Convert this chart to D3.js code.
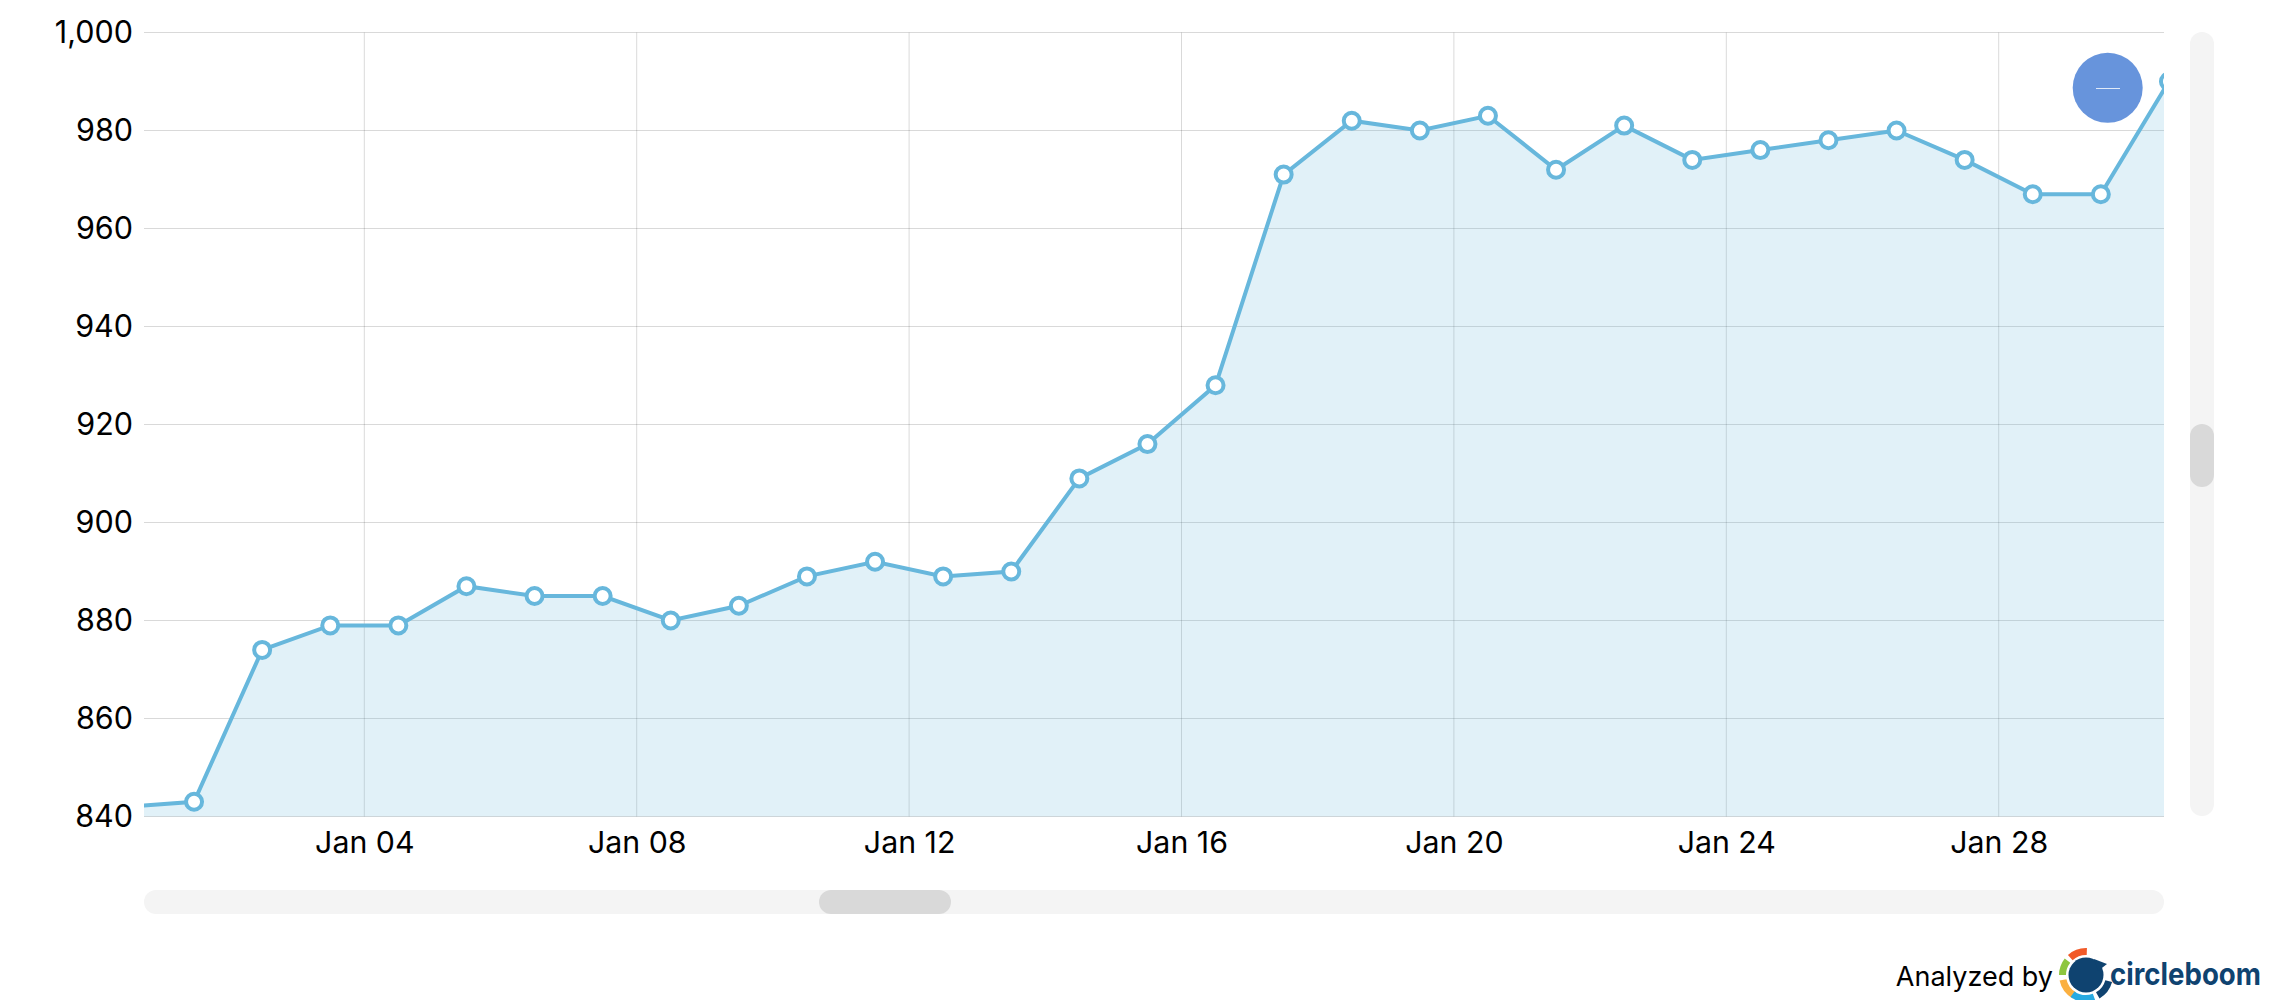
<!DOCTYPE html>
<html>
<head>
<meta charset="utf-8">
<script src="https://cdn.jsdelivr.net/npm/d3@7/dist/d3.min.js"></script>
<style>
html,body{margin:0;padding:0;background:#fff}
svg{display:block}
text{font-family:Inter,"Noto Sans",sans-serif;fill:#000}
</style>
</head>
<body>
<svg id="c" width="2280" height="1000"></svg>
<script>
const dayLabels = ["2023-12-31","2024-01-01","2024-01-02","2024-01-03","2024-01-04","2024-01-05","2024-01-06","2024-01-07","2024-01-08","2024-01-09","2024-01-10","2024-01-11","2024-01-12","2024-01-13","2024-01-14","2024-01-15","2024-01-16","2024-01-17","2024-01-18","2024-01-19","2024-01-20","2024-01-21","2024-01-22","2024-01-23","2024-01-24","2024-01-25","2024-01-26","2024-01-27","2024-01-28","2024-01-29","2024-01-30"];
const followers = [842,843,874,879,879,887,885,885,880,883,889,892,889,890,909,916,928,971,982,980,983,972,981,974,976,978,980,974,967,967,990];
const yTicks = [840,860,880,900,920,940,960,980,1000];
const xTickDays = ["2024-01-04","2024-01-08","2024-01-12","2024-01-16","2024-01-20","2024-01-24","2024-01-28"];

const L=144,R=2164,T=32.5,B=816.5;
const parse=d3.utcParse("%Y-%m-%d");
const pts=dayLabels.map((d,i)=>({t:d3.utcHour.offset(parse(d),12),v:followers[i]}));
const msDay=864e5;
const x=d3.scaleUtc().domain([+parse("2024-01-04")-(364.3-L)/68.1*msDay,+parse("2024-01-04")+(R-364.3)/68.1*msDay]).range([L,R]);
const y=d3.scaleLinear().domain([840,1000]).range([B,T]);
const svg=d3.select("#c");
svg.append("defs").append("clipPath").attr("id","pc").append("rect").attr("x",L).attr("y",0).attr("width",R-L).attr("height",B+1);

const gridOp=0.15;
const yAxis=d3.axisLeft(y).tickValues(yTicks).tickSize(0).tickPadding(0).tickFormat(d3.format(","));
const gy=svg.append("g").attr("transform",`translate(${L-11},0)`).call(yAxis);
gy.select(".domain").remove();
gy.selectAll("text").attr("font-size",30.5).attr("dy","0.33em");
const xAxis=d3.axisBottom(x).tickValues(xTickDays.map(parse)).tickSize(0).tickPadding(0).tickFormat(d3.utcFormat("%b %d"));
const gx=svg.append("g").attr("transform",`translate(0,${B+26})`).call(xAxis);
gx.select(".domain").remove();
gx.selectAll("text").attr("font-size",30.3).attr("dy","0.36em");

const grid=svg.append("g");
grid.selectAll("line.h").data(yTicks).join("line").attr("class","h")
 .attr("x1",L).attr("x2",R).attr("y1",d=>y(d)).attr("y2",d=>y(d))
 .attr("stroke","#000").attr("stroke-opacity",gridOp).attr("stroke-width",1);
grid.selectAll("line.v").data(xTickDays.map(parse)).join("line").attr("class","v")
 .attr("x1",d=>x(d)).attr("x2",d=>x(d)).attr("y1",T).attr("y2",B)
 .attr("stroke","#000").attr("stroke-opacity",gridOp).attr("stroke-width",1);

const plot=svg.append("g").attr("clip-path","url(#pc)");
plot.append("path").datum(pts)
 .attr("d",d3.area().x(d=>x(d.t)).y0(B).y1(d=>y(d.v)))
 .attr("fill","#67b7dc").attr("fill-opacity",0.2);
plot.append("path").datum(pts)
 .attr("d",d3.line().x(d=>x(d.t)).y(d=>y(d.v)))
 .attr("fill","none").attr("stroke","#67b7dc").attr("stroke-width",4);
plot.selectAll("circle").data(pts).join("circle")
 .attr("cx",d=>x(d.t)).attr("cy",d=>y(d.v)).attr("r",8)
 .attr("fill","#fff").attr("stroke","#67b7dc").attr("stroke-width",4);

svg.append("rect").attr("x",L).attr("y",890).attr("width",R-L).attr("height",24).attr("rx",12).attr("fill","#f4f4f4");
svg.append("rect").attr("x",819).attr("y",890).attr("width",132).attr("height",24).attr("rx",12).attr("fill","#d9d9d9");
svg.append("rect").attr("x",2190).attr("y",32).attr("width",24).attr("height",784).attr("rx",12).attr("fill","#f4f4f4");
svg.append("rect").attr("x",2190).attr("y",424).attr("width",24).attr("height",63).attr("rx",12).attr("fill","#d9d9d9");

svg.append("circle").attr("cx",2107.7).attr("cy",87.8).attr("r",35).attr("fill","#6794dc");
svg.append("line").attr("x1",2096).attr("x2",2120).attr("y1",88.5).attr("y2",88.5).attr("stroke","#fff").attr("stroke-opacity",0.8).attr("stroke-width",1);

svg.append("text").attr("x",2053).attr("y",986).attr("text-anchor","end").attr("font-size",27).text("Analyzed by");
const lg=svg.append("g").attr("transform","translate(2086,975)");
const arc=d3.arc().innerRadius(20).outerRadius(27);
const deg=Math.PI/180;
[["#f15a29",-42,2],["#8dc63f",-90,-52],["#fbb040",-150,-102],["#27aae1",160,215],["#0f4370",105,150]].forEach(s=>{
  lg.append("path").attr("d",arc({startAngle:s[1]*deg,endAngle:s[2]*deg})).attr("fill",s[0]);
});
lg.append("circle").attr("r",17.5).attr("fill","#0f4370");
lg.append("path").attr("d","M8,-16 L21,-11 L12,-4 Z").attr("fill","#0f4370");
svg.append("text").attr("x",2110).attr("y",985).attr("font-size",31).attr("font-weight",700).attr("textLength",151).attr("lengthAdjust","spacingAndGlyphs").style("fill","#0f4370").text("circleboom");
</script>
</body>
</html>
